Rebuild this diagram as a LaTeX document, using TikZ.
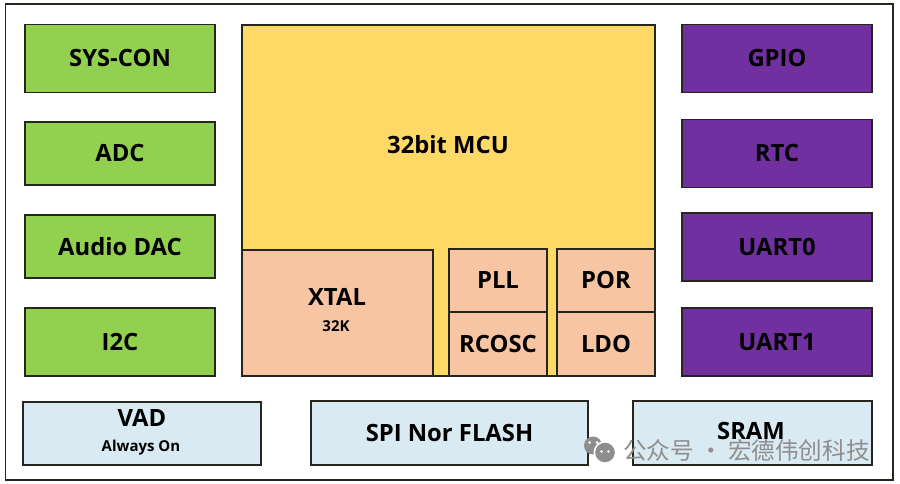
\documentclass[tikz,border=0pt]{standalone}
\usepackage{fontspec}
\setmainfont{Open Sans}
\newfontfamily\cjkwm{Noto Sans CJK SC}
\definecolor{lnc}{HTML}{26261F}
\definecolor{grn}{HTML}{92D050}
\definecolor{pur}{HTML}{7030A0}
\definecolor{yel}{HTML}{FFD966}
\definecolor{org}{HTML}{F8C5A2}
\definecolor{blu}{HTML}{D9EAF2}
\definecolor{wmk}{HTML}{8E8E8E}
\tikzset{
  x=1pt,y=-1pt,
  blk/.style={draw=lnc,line width=1.1pt,inner sep=0pt,outer sep=0pt,align=center,text=black,font=\fontsize{23.8}{26}\selectfont\bfseries},
  green box/.style={blk,fill=grn},
  purple box/.style={blk,fill=pur,text=black},
  orange box/.style={blk,fill=org},
  blue box/.style={blk,fill=blu},
  lbl/.style={inner sep=0pt,text=black,font=\fontsize{23.8}{26}\selectfont\bfseries},
  smalllbl/.style={inner sep=0pt,text=black,font=\fontsize{15}{17}\selectfont\bfseries},
  wm/.style={inner sep=0pt,text=wmk,font=\fontsize{23.6}{26}\cjkwm},
  bx/.style n args={2}{minimum width=#1pt,minimum height=#2pt}
}
\begin{document}
\begin{tikzpicture}
\useasboundingbox (0,0) rectangle (900,484);
\fill[white] (0,0) rectangle (900,484);
\node[draw=lnc,line width=1.4pt,bx={887.5}{476},inner sep=0pt,outer sep=0pt] (outer) at (449.25,242) {};
% left column
\node[green box,bx={190}{68}] (syscon) at (120,58.5) {\raisebox{1pt}{SYS-CON}};
\node[green box,bx={190}{63}] (adc) at (120,153.5) {\raisebox{1pt}{ADC}};
\node[green box,bx={190}{63}] (dac) at (120,246.5) {\raisebox{1pt}{Audio DAC}};
\node[green box,bx={190}{68}] (iic) at (120,342) {\raisebox{1pt}{I2C}};
% MCU
\node[blk,fill=yel,bx={413}{351}] (mcu) at (448.5,200.5) {};
\node[lbl] (mcut) at (448,144.5) {32bit MCU};
\node[orange box,bx={191}{126}] (xtal) at (337.5,313) {};
\node[lbl] (xtalt) at (337,297) {XTAL};
\node[smalllbl] (xtalk) at (336,326) {32K};
\node[orange box,bx={98}{63}] (pll) at (498,280.5) {\raisebox{1pt}{PLL}};
\node[orange box,bx={98}{64}] (rcosc) at (498,344) {\raisebox{1pt}{RCOSC}};
\node[orange box,bx={98}{63}] (por) at (606,280.5) {\raisebox{1pt}{POR}};
\node[orange box,bx={98}{64}] (ldo) at (606,344) {\raisebox{1pt}{LDO}};
% right column
\node[purple box,bx={190}{68}] (gpio) at (777,58.5) {\raisebox{1pt}{GPIO}};
\node[purple box,bx={190}{68}] (rtc) at (777,153.5) {\raisebox{1pt}{RTC}};
\node[purple box,bx={190}{68}] (uart0) at (777,247) {\raisebox{1pt}{UART0}};
\node[purple box,bx={190}{68}] (uart1) at (777,342) {\raisebox{1pt}{UART1}};
% bottom row
\node[blue box,bx={238}{63}] (vad) at (142,433.5) {};
\node[lbl] (vadt) at (142,417.5) {VAD};
\node[smalllbl] (vadk) at (141,448) {Always On};
\node[blue box,bx={277}{64}] (spi) at (449.5,433) {\raisebox{1pt}{SPI Nor FLASH}};
\node[blue box,bx={239}{64}] (sram) at (752.5,433) {};
\node[lbl] (sramt) at (751,431) {SRAM};
% watermark
\fill[wmk] (593,445.5) circle (9);
\fill[white] (605,452.5) circle (11.5);
\fill[wmk] (605,452.5) circle (9.8);
\fill[white] (589.5,442.5) circle (1.5) (597,442.5) circle (1.5);
\fill[white] (601.5,451.5) circle (1.4) (608.5,451.5) circle (1.4);
\node[wm,anchor=west] (wmt) at (623,450) {公众号 · 宏德伟创科技};
\end{tikzpicture}
\end{document}
